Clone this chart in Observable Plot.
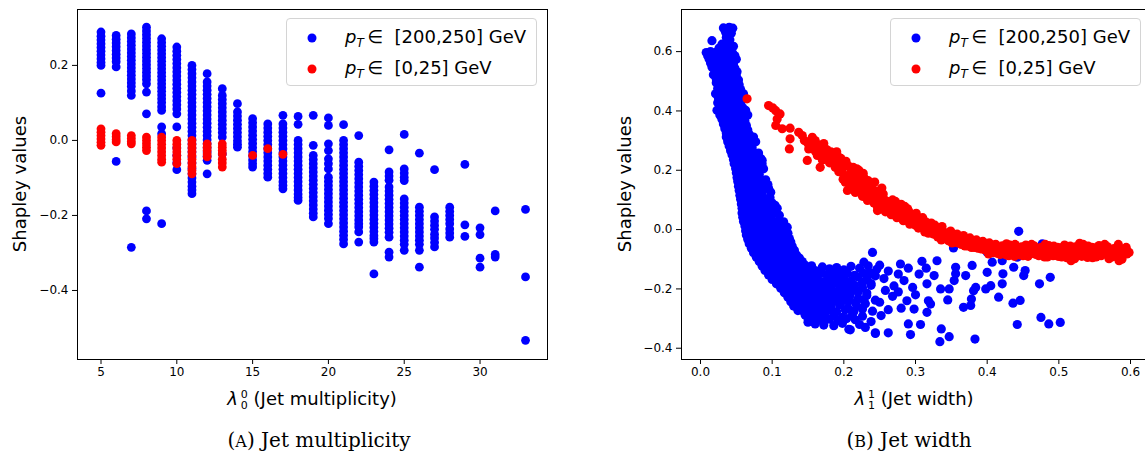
<!DOCTYPE html>
<html><head><meta charset="utf-8">
<script src="https://cdn.jsdelivr.net/npm/d3@7"></script>
<script src="https://cdn.jsdelivr.net/npm/@observablehq/plot@0.6"></script>
<style>
body{margin:0;background:#fff;}
#root{position:relative;width:1145px;height:452px;overflow:hidden;font-family:"DejaVu Sans",sans-serif;color:#000;}
.plot{position:absolute;top:0;}
.ylab{position:absolute;font-size:18px;transform:translate(-50%,-50%) rotate(-90deg);white-space:nowrap;}
.xlab{position:absolute;font-size:18px;transform:translate(-50%,-50%);white-space:nowrap;}
.cap{position:absolute;font-family:"DejaVu Serif",serif;font-size:20px;transform:translate(-50%,-50%);white-space:nowrap;}
.sc{font-size:16px;}
.legend{position:absolute;border:1px solid #d4d4d4;border-radius:4px;background:rgba(255,255,255,0.8);box-sizing:border-box;width:251px;height:68px;}
.ldot{position:absolute;width:9px;height:9px;border-radius:50%;transform:translate(-50%,-50%);}
.ltxt{position:absolute;font-size:18px;transform:translateY(-50%);white-space:nowrap;}
.ss{display:inline-block;vertical-align:middle;font-size:11px;line-height:11px;margin-left:3px;}
.ss span{display:block;}
sub{font-size:12px;}
</style>
</head><body>
<div id="root"></div>
<script>
// ---------- Panel A: jet multiplicity ----------
const multTicks = [5, 10, 15, 20, 25, 30];
const shapTicksA = [-0.4, -0.2, 0.0, 0.2];
const multBlue = [
  [5, [0.289,0.278,0.268,0.258,0.248,0.238,0.228,0.218,0.208,0.200,0.126]],
  [6, [0.280,0.270,0.260,0.250,0.240,0.230,0.220,0.210,0.196,-0.056]],
  [7, [0.284,0.274,0.264,0.254,0.244,0.234,0.224,0.214,0.204,0.194,0.184,0.174,0.164,0.154,0.144,0.132,0.120,-0.285]],
  [8, [0.302,0.292,0.282,0.272,0.262,0.252,0.242,0.232,0.222,0.212,0.202,0.192,0.182,0.172,0.162,0.151,0.129,0.071,-0.188,-0.209]],
  [9, [0.271,0.261,0.251,0.241,0.231,0.221,0.211,0.201,0.191,0.181,0.171,0.161,0.151,0.141,0.131,0.121,0.111,0.101,0.090,0.080,0.036,0.018,-0.222]],
  [10, [0.249,0.238,0.227,0.216,0.205,0.194,0.183,0.172,0.161,0.150,0.139,0.128,0.117,0.106,0.095,0.084,0.071,0.036,-0.020,-0.040,-0.060,-0.078]],
  [11, [0.200,0.189,0.178,0.167,0.156,0.145,0.134,0.123,0.112,0.101,0.090,0.079,0.068,0.057,0.046,0.035,0.024,0.013,0.002,-0.009,-0.020,-0.031,-0.044,-0.060,-0.075,-0.089,-0.100,-0.111,-0.122,-0.132,-0.142]],
  [12, [0.178,0.156,0.145,0.134,0.123,0.112,0.101,0.090,0.079,0.068,0.057,0.046,0.035,0.024,0.013,0.002,-0.009,-0.020,-0.031,-0.042,-0.053,-0.089]],
  [13, [0.138,0.120,0.109,0.098,0.087,0.076,0.065,0.054,0.043,0.032,0.021,0.009,-0.036]],
  [14, [0.098,0.076,0.065,0.054,0.043,0.032,0.021,0.010,-0.001,-0.010,-0.018]],
  [15, [0.058,0.047,0.036,0.025,0.014,0.003,-0.008,-0.019,-0.030,-0.041,-0.052,-0.062,-0.071]],
  [16, [0.044,0.033,0.022,0.011,0.000,-0.011,-0.022,-0.033,-0.044,-0.055,-0.066,-0.077,-0.088,-0.098]],
  [17, [0.067,0.044,0.033,0.022,0.011,0.000,-0.011,-0.022,-0.033,-0.044,-0.055,-0.066,-0.077,-0.088,-0.099,-0.110,-0.120,-0.129]],
  [18, [0.064,0.043,0.000,-0.011,-0.022,-0.033,-0.044,-0.055,-0.066,-0.077,-0.088,-0.099,-0.110,-0.121,-0.132,-0.143,-0.152,-0.160]],
  [19, [0.067,-0.013,-0.040,-0.051,-0.062,-0.073,-0.084,-0.095,-0.106,-0.117,-0.128,-0.139,-0.150,-0.161,-0.172,-0.183,-0.194,-0.204]],
  [20, [0.060,0.040,-0.009,-0.027,-0.049,-0.062,-0.076,-0.098,-0.109,-0.120,-0.131,-0.142,-0.153,-0.164,-0.175,-0.186,-0.197,-0.208,-0.222]],
  [21, [0.042,0.000,-0.011,-0.022,-0.033,-0.044,-0.055,-0.066,-0.077,-0.088,-0.099,-0.110,-0.121,-0.132,-0.143,-0.154,-0.165,-0.176,-0.187,-0.198,-0.209,-0.220,-0.231,-0.242,-0.253,-0.264,-0.276]],
  [22, [0.013,-0.058,-0.069,-0.080,-0.091,-0.102,-0.113,-0.124,-0.135,-0.146,-0.157,-0.168,-0.179,-0.190,-0.201,-0.212,-0.222,-0.231,-0.244,-0.271]],
  [23, [-0.111,-0.122,-0.133,-0.144,-0.155,-0.166,-0.177,-0.188,-0.199,-0.210,-0.221,-0.232,-0.243,-0.254,-0.262,-0.271,-0.356]],
  [24, [-0.025,-0.084,-0.095,-0.106,-0.124,-0.135,-0.146,-0.157,-0.168,-0.179,-0.190,-0.201,-0.212,-0.223,-0.234,-0.245,-0.258,-0.298,-0.311]],
  [25, [0.016,-0.076,-0.087,-0.098,-0.107,-0.156,-0.167,-0.178,-0.189,-0.200,-0.211,-0.222,-0.233,-0.244,-0.255,-0.266,-0.277,-0.293]],
  [26, [-0.034,-0.178,-0.189,-0.200,-0.211,-0.222,-0.233,-0.244,-0.255,-0.266,-0.277,-0.293,-0.338]],
  [27, [-0.078,-0.204,-0.215,-0.226,-0.237,-0.250,-0.260,-0.272,-0.284]],
  [28, [-0.178,-0.189,-0.200,-0.211,-0.222,-0.236,-0.247,-0.258]],
  [29, [-0.064,-0.225,-0.256]],
  [30, [-0.233,-0.251,-0.314,-0.338]],
  [31, [-0.188,-0.304,-0.311]],
  [33, [-0.184,-0.364,-0.533]]
];
const multRed = [
  [5, [0.031,0.022,0.013,0.004,-0.005,-0.013]],
  [6, [0.018,0.010,0.002,-0.004]],
  [7, [0.013,0.005,-0.003,-0.009]],
  [8, [0.009,0.000,-0.009,-0.018,-0.027]],
  [9, [0.009,0.000,-0.010,-0.020,-0.030,-0.040,-0.050,-0.058]],
  [10, [0.000,-0.010,-0.020,-0.030,-0.040,-0.050,-0.062]],
  [11, [0.000,-0.010,-0.020,-0.030,-0.040,-0.050,-0.060,-0.070,-0.080,-0.089]],
  [12, [-0.009,-0.018,-0.027,-0.036,-0.044]],
  [13, [-0.009,-0.018,-0.027,-0.036,-0.050,-0.060,-0.071]],
  [15, [-0.040]],
  [16, [-0.022]],
  [17, [-0.037]]
];

// ---------- Panel B: jet width ----------
const widthTicks = [0.0, 0.1, 0.2, 0.3, 0.4, 0.5, 0.6];
const shapTicksB = [-0.4, -0.2, 0.0, 0.2, 0.4, 0.6];
const widthBlue = [
  [0.032,0.680],[0.040,0.682],[0.045,0.679],[0.035,0.665],[0.043,0.662],[0.016,0.637],[0.036,0.648],[0.041,0.640],
  [0.030,0.625],[0.038,0.622],[0.046,0.618],[0.026,0.612],[0.034,0.610],[0.042,0.608],
  [0.008,0.597],[0.014,0.600],[0.022,0.598],[0.030,0.603],[0.038,0.600],[0.045,0.594],
  [0.010,0.586],[0.018,0.588],[0.026,0.585],[0.034,0.588],[0.041,0.584],[0.048,0.586],
  [0.012,0.575],[0.020,0.580],[0.028,0.572],[0.036,0.578],[0.044,0.570],[0.050,0.574],
  [0.014,0.562],[0.022,0.565],[0.030,0.560],[0.038,0.563],[0.046,0.558],
  [0.016,0.548],[0.024,0.552],[0.032,0.545],[0.040,0.550],[0.048,0.544],
  [0.020,0.535],[0.028,0.538],[0.036,0.532],[0.044,0.536],[0.051,0.532],
  [0.018,0.522],[0.026,0.527],[0.034,0.520],[0.042,0.525],[0.050,0.518],
  [0.022,0.508],[0.030,0.510],[0.038,0.506],[0.046,0.510],[0.053,0.504],
  [0.022,0.495],[0.030,0.490],[0.038,0.497],[0.046,0.492],[0.054,0.488],
  [0.024,0.476],[0.032,0.478],[0.040,0.472],[0.048,0.476],[0.056,0.472],
  [0.021,0.458],[0.029,0.462],[0.037,0.455],[0.045,0.460],[0.053,0.455],[0.060,0.458],
  [0.025,0.444],[0.033,0.446],[0.041,0.440],[0.049,0.444],[0.057,0.441],
  [0.024,0.428],[0.032,0.432],[0.040,0.425],[0.048,0.430],[0.056,0.426],
  [0.027,0.415],[0.035,0.412],[0.043,0.418],[0.051,0.414],[0.059,0.411],
  [0.023,0.402],[0.031,0.398],[0.039,0.405],[0.047,0.400],[0.055,0.396],[0.063,0.402],
  [0.027,0.386],[0.035,0.383],[0.043,0.389],[0.051,0.385],[0.059,0.382],[0.066,0.386],
  [0.030,0.372],[0.038,0.368],[0.046,0.375],[0.054,0.370],[0.062,0.366],
  [0.032,0.356],[0.040,0.353],[0.048,0.358],[0.056,0.355],[0.064,0.351],
  [0.034,0.340],[0.042,0.345],[0.050,0.338],[0.058,0.342],[0.066,0.336],
  [0.036,0.326],[0.044,0.323],[0.052,0.328],[0.060,0.325],[0.068,0.321],
  [0.036,0.312],[0.044,0.308],[0.052,0.315],[0.060,0.310],[0.068,0.306],[0.074,0.312],
  [0.038,0.296],[0.046,0.293],[0.054,0.298],[0.062,0.295],[0.070,0.291],[0.077,0.296],
  [0.040,0.282],[0.048,0.278],[0.056,0.285],[0.064,0.280],[0.072,0.276],
  [0.042,0.266],[0.050,0.263],[0.058,0.268],[0.066,0.265],[0.074,0.261],[0.081,0.258],
  [0.044,0.252],[0.052,0.248],[0.060,0.255],[0.068,0.250],[0.076,0.246],[0.084,0.240],
  [0.046,0.236],[0.054,0.233],[0.062,0.238],[0.070,0.235],[0.078,0.231],[0.086,0.234],
  [0.047,0.222],[0.055,0.218],[0.063,0.225],[0.071,0.220],[0.079,0.216],[0.086,0.222],
  [0.049,0.206],[0.057,0.203],[0.065,0.208],[0.073,0.205],[0.081,0.201],[0.088,0.205],
  [0.050,0.192],[0.058,0.188],[0.066,0.195],[0.074,0.190],[0.082,0.186],
  [0.051,0.176],[0.059,0.173],[0.067,0.178],[0.075,0.175],[0.083,0.171],[0.091,0.168],
  [0.052,0.162],[0.060,0.158],[0.068,0.165],[0.076,0.160],[0.084,0.156],[0.094,0.152],
  [0.053,0.146],[0.061,0.143],[0.069,0.148],[0.077,0.145],[0.085,0.141],[0.095,0.139],
  [0.054,0.132],[0.062,0.128],[0.070,0.135],[0.078,0.130],[0.086,0.126],[0.098,0.126],
  [0.055,0.116],[0.063,0.113],[0.071,0.118],[0.079,0.115],[0.087,0.111],[0.097,0.108],
  [0.056,0.102],[0.064,0.098],[0.072,0.105],[0.080,0.100],[0.088,0.096],[0.100,0.090],
  [0.057,0.086],[0.065,0.083],[0.073,0.088],[0.081,0.085],[0.089,0.081],[0.097,0.088],[0.104,0.082],
  [0.058,0.072],[0.066,0.068],[0.074,0.075],[0.082,0.070],[0.090,0.066],[0.098,0.074],[0.107,0.072],
  [0.058,0.056],[0.066,0.053],[0.074,0.058],[0.082,0.055],[0.090,0.051],[0.098,0.058],[0.106,0.056],
  [0.059,0.042],[0.067,0.038],[0.075,0.045],[0.083,0.040],[0.091,0.036],[0.099,0.044],[0.110,0.048],
  [0.060,0.027],[0.068,0.023],[0.076,0.030],[0.084,0.025],[0.092,0.021],[0.100,0.029],[0.108,0.026],[0.116,0.026],
  [0.062,0.012],[0.070,0.008],[0.078,0.015],[0.086,0.010],[0.094,0.006],[0.102,0.014],[0.112,0.010],[0.121,0.008],
  [0.063,-0.004],[0.071,-0.008],[0.079,0.000],[0.087,-0.005],[0.095,-0.009],[0.103,-0.001],[0.113,-0.006],[0.122,-0.012],
  [0.064,-0.018],[0.072,-0.022],[0.080,-0.015],[0.088,-0.020],[0.096,-0.024],[0.104,-0.016],[0.114,-0.022],[0.124,-0.030],
  [0.066,-0.033],[0.074,-0.037],[0.082,-0.030],[0.090,-0.035],[0.098,-0.039],[0.106,-0.031],[0.116,-0.037],[0.126,-0.042],
  [0.068,-0.048],[0.076,-0.052],[0.084,-0.045],[0.092,-0.050],[0.100,-0.054],[0.108,-0.046],[0.118,-0.052],[0.128,-0.056],
  [0.071,-0.063],[0.079,-0.067],[0.087,-0.060],[0.095,-0.065],[0.103,-0.069],[0.111,-0.061],[0.121,-0.067],[0.131,-0.070],
  [0.074,-0.078],[0.082,-0.082],[0.090,-0.075],[0.098,-0.080],[0.106,-0.084],[0.114,-0.076],[0.124,-0.082],[0.134,-0.086],
  [0.078,-0.093],[0.086,-0.097],[0.094,-0.090],[0.102,-0.095],[0.110,-0.099],[0.118,-0.091],[0.128,-0.097],[0.138,-0.096],
  [0.082,-0.108],[0.090,-0.112],[0.098,-0.105],[0.106,-0.110],[0.114,-0.114],[0.122,-0.106],[0.132,-0.112],[0.142,-0.108],
  [0.086,-0.123],[0.094,-0.127],[0.102,-0.120],[0.110,-0.125],[0.118,-0.129],[0.126,-0.121],[0.136,-0.127],[0.146,-0.120],[0.155,-0.122],
  [0.090,-0.138],[0.098,-0.142],[0.106,-0.135],[0.114,-0.140],[0.122,-0.144],[0.130,-0.136],[0.140,-0.142],[0.150,-0.130],[0.160,-0.138],[0.170,-0.126],[0.180,-0.132],[0.190,-0.128],[0.200,-0.136],[0.210,-0.124],[0.222,-0.130],[0.234,-0.122],[0.246,-0.134],
  [0.095,-0.153],[0.104,-0.156],[0.112,-0.150],[0.120,-0.155],[0.128,-0.158],[0.136,-0.151],[0.144,-0.157],[0.152,-0.149],[0.160,-0.154],[0.168,-0.148],[0.176,-0.152],[0.185,-0.146],[0.195,-0.152],[0.205,-0.148],[0.215,-0.154],[0.227,-0.146],[0.239,-0.150],
  [0.100,-0.168],[0.108,-0.172],[0.116,-0.165],[0.124,-0.170],[0.132,-0.174],[0.140,-0.166],[0.148,-0.172],[0.156,-0.164],[0.164,-0.170],[0.172,-0.176],[0.180,-0.162],[0.190,-0.170],[0.200,-0.166],[0.210,-0.174],[0.220,-0.160],[0.232,-0.168],[0.244,-0.156],
  [0.106,-0.183],[0.114,-0.186],[0.122,-0.180],[0.130,-0.185],[0.138,-0.188],[0.146,-0.181],[0.154,-0.187],[0.162,-0.179],[0.170,-0.185],[0.178,-0.189],[0.186,-0.181],[0.195,-0.186],[0.205,-0.180],[0.215,-0.188],[0.226,-0.178],[0.238,-0.182],
  [0.112,-0.198],[0.120,-0.202],[0.128,-0.195],[0.136,-0.200],[0.144,-0.204],[0.152,-0.196],[0.160,-0.202],[0.168,-0.194],[0.176,-0.200],[0.184,-0.206],[0.194,-0.198],[0.204,-0.192],[0.214,-0.204],[0.226,-0.196],[0.238,-0.188],
  [0.117,-0.213],[0.125,-0.216],[0.133,-0.210],[0.141,-0.215],[0.149,-0.218],[0.157,-0.211],[0.165,-0.217],[0.173,-0.209],[0.181,-0.215],[0.190,-0.219],[0.199,-0.211],[0.209,-0.216],[0.220,-0.210],[0.232,-0.214],
  [0.122,-0.228],[0.130,-0.232],[0.138,-0.225],[0.146,-0.230],[0.154,-0.234],[0.162,-0.226],[0.170,-0.232],[0.178,-0.224],[0.188,-0.230],[0.198,-0.236],[0.208,-0.226],[0.220,-0.232],[0.232,-0.222],[0.244,-0.238],
  [0.126,-0.243],[0.134,-0.246],[0.142,-0.240],[0.150,-0.245],[0.158,-0.248],[0.167,-0.241],[0.176,-0.247],[0.186,-0.240],[0.196,-0.246],[0.206,-0.242],[0.216,-0.246],[0.228,-0.238],
  [0.130,-0.258],[0.138,-0.262],[0.146,-0.255],[0.154,-0.260],[0.162,-0.264],[0.172,-0.256],[0.182,-0.262],[0.194,-0.254],[0.206,-0.266],[0.218,-0.258],[0.230,-0.250],
  [0.136,-0.273],[0.144,-0.276],[0.152,-0.270],[0.160,-0.275],[0.168,-0.278],[0.178,-0.271],[0.190,-0.277],[0.202,-0.270],[0.214,-0.276],[0.226,-0.268],
  [0.146,-0.288],[0.154,-0.292],[0.164,-0.285],[0.174,-0.294],[0.186,-0.288],[0.198,-0.296],[0.212,-0.286],[0.226,-0.292],
  [0.150,-0.300],[0.158,-0.304],[0.168,-0.306],[0.180,-0.302],[0.192,-0.306],[0.204,-0.300],[0.216,-0.304],
  [0.150,-0.312],[0.160,-0.318],[0.172,-0.322],[0.186,-0.324],[0.198,-0.316],[0.209,-0.338],[0.222,-0.320],[0.244,-0.350],[0.207,-0.336],
  [0.228,-0.110],[0.236,-0.145],[0.250,-0.120],[0.256,-0.165],[0.262,-0.140],[0.270,-0.190],[0.276,-0.150],[0.284,-0.172],
  [0.258,-0.205],[0.268,-0.225],[0.250,-0.245],[0.262,-0.270],[0.276,-0.210],[0.288,-0.240],[0.296,-0.195],[0.300,-0.220],
  [0.290,-0.130],[0.305,-0.150],[0.252,-0.290],[0.240,-0.275],[0.280,-0.265],[0.315,-0.130],[0.318,-0.240],[0.238,-0.310],
  [0.240,-0.077],[0.353,-0.062],[0.444,-0.006],[0.477,-0.048],[0.330,-0.105],[0.309,-0.107],[0.279,-0.116],[0.356,-0.127],
  [0.379,-0.121],[0.400,-0.076],[0.407,-0.110],[0.421,-0.105],[0.437,-0.127],[0.442,-0.093],[0.453,-0.138],[0.451,-0.155],
  [0.422,-0.149],[0.400,-0.144],[0.370,-0.155],[0.356,-0.149],[0.354,-0.172],[0.488,-0.161],[0.473,-0.183],[0.421,-0.183],
  [0.405,-0.189],[0.398,-0.200],[0.384,-0.195],[0.381,-0.206],[0.347,-0.200],[0.335,-0.200],[0.326,-0.155],[0.316,-0.183],
  [0.416,-0.228],[0.378,-0.234],[0.345,-0.237],[0.367,-0.262],[0.377,-0.256],[0.436,-0.248],[0.446,-0.239],[0.321,-0.251],
  [0.316,-0.279],[0.298,-0.268],[0.475,-0.296],[0.486,-0.318],[0.502,-0.313],[0.442,-0.320],[0.290,-0.318],[0.307,-0.320],
  [0.293,-0.354],[0.336,-0.335],[0.347,-0.361],[0.334,-0.378],[0.383,-0.369],[0.244,-0.348],[0.262,-0.348],[0.230,-0.330]
];
const widthRed = [
  [0.065,0.441],[0.095,0.418],[0.101,0.410],[0.105,0.401],[0.111,0.390],[0.107,0.373],[0.105,0.351],[0.114,0.340],
  [0.125,0.342],[0.125,0.306],[0.124,0.272],[0.137,0.328],[0.142,0.317],[0.156,0.311],[0.158,0.294],[0.151,0.272],
  [0.167,0.266],[0.149,0.233],[0.160,0.300],[0.165,0.285],[0.172,0.290],[0.176,0.270],[0.182,0.262],[0.191,0.250],
  [0.191,0.244],[0.186,0.235],[0.167,0.210],[0.175,0.240],[0.170,0.255],
  [0.145,0.300],[0.150,0.290],[0.155,0.280],[0.160,0.265],[0.163,0.250],[0.170,0.235],[0.173,0.272],[0.178,0.255],
  [0.180,0.225],[0.184,0.248],[0.188,0.210],[0.190,0.262],[0.193,0.195],[0.196,0.240],[0.199,0.170],[0.203,0.230],
  [0.207,0.180],[0.209,0.145],[0.213,0.210],[0.216,0.125],[0.219,0.168],[0.221,0.200],[0.225,0.145],[0.227,0.190],
  [0.231,0.120],[0.234,0.165],[0.236,0.105],[0.239,0.140],[0.243,0.160],[0.244,0.105],[0.248,0.120],[0.249,0.090],
  [0.253,0.140],[0.254,0.070],
  [0.195,0.225],[0.198,0.205],[0.200,0.185],[0.202,0.160],[0.205,0.132],[0.206,0.215],[0.210,0.195],[0.212,0.170],
  [0.215,0.150],[0.218,0.205],[0.220,0.185],[0.222,0.160],[0.224,0.135],[0.226,0.112],[0.228,0.176],[0.230,0.150],
  [0.233,0.098],[0.235,0.130],[0.237,0.148],[0.240,0.115],[0.242,0.090],[0.245,0.130],[0.247,0.075],[0.247,0.064],
  [0.250,0.105],[0.252,0.085],
  [0.255,0.120],[0.258,0.060],[0.260,0.095],[0.263,0.075],[0.266,0.050],[0.268,0.100],[0.271,0.080],[0.274,0.040],
  [0.277,0.065],[0.280,0.085],[0.283,0.030],[0.286,0.055],[0.289,0.070],[0.292,0.018],[0.295,0.045],[0.298,0.030],
  [0.301,0.055],[0.304,0.005],[0.307,0.025],[0.310,0.040],[0.313,-0.008],[0.316,0.015],[0.319,0.000],
  [0.257,0.100],[0.261,0.068],[0.265,0.088],[0.269,0.058],[0.272,0.095],[0.276,0.050],[0.279,0.072],[0.282,0.045],
  [0.285,0.078],[0.288,0.040],[0.291,0.060],[0.294,0.028],[0.297,0.050],[0.300,0.015],[0.303,0.040],[0.306,0.010],
  [0.309,0.030],[0.312,0.002],[0.315,0.025],[0.318,-0.012],[0.321,0.010],[0.324,-0.005],[0.327,0.015],[0.330,-0.010],
  [0.322,0.022],[0.325,-0.015],[0.328,0.005],[0.331,-0.025],[0.334,-0.005],[0.337,0.010],[0.340,-0.030],[0.343,-0.012],
  [0.346,-0.038],[0.349,-0.005],[0.352,-0.025],[0.355,-0.042],[0.358,-0.015],[0.361,-0.032],[0.364,-0.050],[0.367,-0.020],
  [0.370,-0.040],[0.373,-0.055],[0.376,-0.028],[0.379,-0.045],[0.382,-0.060],[0.385,-0.035],[0.388,-0.050],[0.391,-0.065],
  [0.394,-0.040],[0.397,-0.056],
  [0.333,-0.020],[0.336,-0.035],[0.339,-0.008],[0.342,-0.025],[0.345,-0.015],[0.348,-0.030],[0.351,-0.045],[0.354,-0.018],
  [0.357,-0.035],[0.360,-0.045],[0.363,-0.025],[0.366,-0.040],[0.369,-0.055],[0.372,-0.032],[0.375,-0.045],[0.378,-0.060],
  [0.381,-0.038],[0.384,-0.052],[0.387,-0.063],[0.390,-0.042],[0.393,-0.055],[0.396,-0.068],[0.399,-0.048],
  [0.400,-0.070],[0.403,-0.045],[0.406,-0.060],[0.409,-0.078],[0.412,-0.050],[0.415,-0.066],[0.418,-0.084],[0.421,-0.055],
  [0.424,-0.072],[0.427,-0.048],[0.430,-0.088],[0.433,-0.062],[0.436,-0.078],[0.439,-0.050],[0.442,-0.068],[0.445,-0.085],
  [0.448,-0.058],[0.451,-0.074],[0.454,-0.052],[0.457,-0.090],[0.460,-0.064],[0.463,-0.080],[0.466,-0.056],[0.469,-0.070],
  [0.472,-0.088],[0.475,-0.060],[0.478,-0.076],[0.481,-0.050],[0.484,-0.092],[0.487,-0.066],[0.490,-0.080],[0.493,-0.056],
  [0.496,-0.072],[0.499,-0.090],[0.502,-0.062],[0.505,-0.078],[0.508,-0.052],[0.511,-0.095],[0.514,-0.068],[0.517,-0.105],
  [0.520,-0.082],[0.523,-0.058],[0.526,-0.074],[0.529,-0.046],[0.532,-0.090],[0.535,-0.064],[0.538,-0.080],[0.541,-0.056],
  [0.544,-0.072],[0.547,-0.095],[0.550,-0.062],[0.553,-0.078],[0.556,-0.054],[0.559,-0.088],[0.562,-0.068],[0.565,-0.082],
  [0.568,-0.058],[0.571,-0.074],[0.574,-0.092],[0.577,-0.064],[0.580,-0.080],[0.583,-0.050],[0.584,-0.105],[0.586,-0.072],
  [0.589,-0.088],[0.592,-0.066],[0.595,-0.082],[0.598,-0.077],
  [0.402,-0.082],[0.408,-0.052],[0.414,-0.080],[0.420,-0.068],[0.426,-0.085],[0.432,-0.052],[0.438,-0.090],[0.444,-0.062],
  [0.450,-0.088],[0.456,-0.068],[0.462,-0.050],[0.468,-0.084],[0.474,-0.072],[0.480,-0.092],[0.486,-0.054],[0.492,-0.088],
  [0.498,-0.060],[0.504,-0.092],[0.510,-0.070],[0.516,-0.056],[0.522,-0.098],[0.528,-0.086],[0.534,-0.050],[0.540,-0.094],
  [0.546,-0.060],[0.552,-0.092],[0.558,-0.070],[0.564,-0.050],[0.570,-0.098],[0.576,-0.082],[0.582,-0.066],[0.588,-0.100],
  [0.594,-0.060]
];

const BLUE = "#0000ff", RED = "#ff0000", R = 4.6;
const fmt1 = d3.format(".1f");
const style = {fontFamily: "DejaVu Sans", fontSize: "12px", color: "#000", background: "transparent", overflow: "visible"};
const flat = cols => cols.flatMap(([x, ys]) => ys.map(y => ({x, y})));

const plotA = Plot.plot({
  width: 572, height: 400, marginTop: 9, marginLeft: 77, marginRight: 25, marginBottom: 41,
  x: {domain: [3.45, 34.45]}, y: {domain: [-0.584, 0.349]}, style,
  marks: [
    Plot.dot(flat(multBlue), {x: "x", y: "y", r: 4.4, fill: BLUE}),
    Plot.dot(flat(multRed), {x: "x", y: "y", r: 4.4, fill: RED}),
    Plot.frame({stroke: "#000", strokeWidth: 1}),
    Plot.axisX({ticks: multTicks, tickSize: 5, tickPadding: 3, label: null, tickFormat: d => String(d)}),
    Plot.axisY({ticks: shapTicksA, tickSize: 5, tickPadding: 4, label: null, tickFormat: fmt1})
  ]
});
const plotB = Plot.plot({
  width: 580, height: 400, marginTop: 9, marginLeft: 109, marginRight: 5, marginBottom: 41,
  x: {domain: [-0.0265, 0.6237]}, y: {domain: [-0.438, 0.742]}, style,
  marks: [
    Plot.dot(widthBlue, {x: d => d[0], y: d => d[1], r: R, fill: BLUE}),
    Plot.dot(widthRed, {x: d => d[0], y: d => d[1], r: R, fill: RED}),
    Plot.frame({stroke: "#000", strokeWidth: 1}),
    Plot.axisX({ticks: widthTicks, tickSize: 5, tickPadding: 3, label: null, tickFormat: fmt1}),
    Plot.axisY({ticks: shapTicksB, tickSize: 5, tickPadding: 4, label: null, tickFormat: fmt1})
  ]
});

const root = document.getElementById("root");
plotA.classList.add("plot"); plotA.style.left = "0px";
plotB.classList.add("plot"); plotB.style.left = "572px";
root.append(plotA, plotB);

function add(cls, html, left, top) {
  const d = document.createElement("div");
  d.className = cls; d.innerHTML = html;
  d.style.left = left + "px"; d.style.top = top + "px";
  root.append(d); return d;
}
const lam = (sub, sup) => `<i>λ</i><span class="ss"><span>${sup}</span><span>${sub}</span></span>`;
add("ylab", "Shapley values", 19, 184);
add("ylab", "Shapley values", 624, 184);
add("xlab", `${lam(0,0)} (Jet multiplicity)`, 312, 399);
add("xlab", `${lam(1,1)} (Jet width)`, 914, 399);
add("cap", `(<span class="sc">A</span>) Jet multiplicity`, 319, 440);
add("cap", `(<span class="sc">B</span>) Jet width`, 909, 440);

const legendLabels = ["[200,250] GeV", "[0,25] GeV"];
const legendColors = [BLUE, RED];
function legend(left) {
  const L = add("legend", "", left, 18);
  legendLabels.forEach((lab, i) => {
    const cy = 19 + i * 31;
    const dot = document.createElement("div");
    dot.className = "ldot"; dot.style.left = "25px"; dot.style.top = cy + "px"; dot.style.background = legendColors[i];
    const t = document.createElement("div");
    t.className = "ltxt"; t.style.left = "58px"; t.style.top = cy + "px";
    t.innerHTML = `<i>p</i><sub><i>T</i></sub>&thinsp;∈&nbsp; ${lab}`;
    L.append(dot, t);
  });
}
legend(286);
legend(890);
</script>
</body></html>
